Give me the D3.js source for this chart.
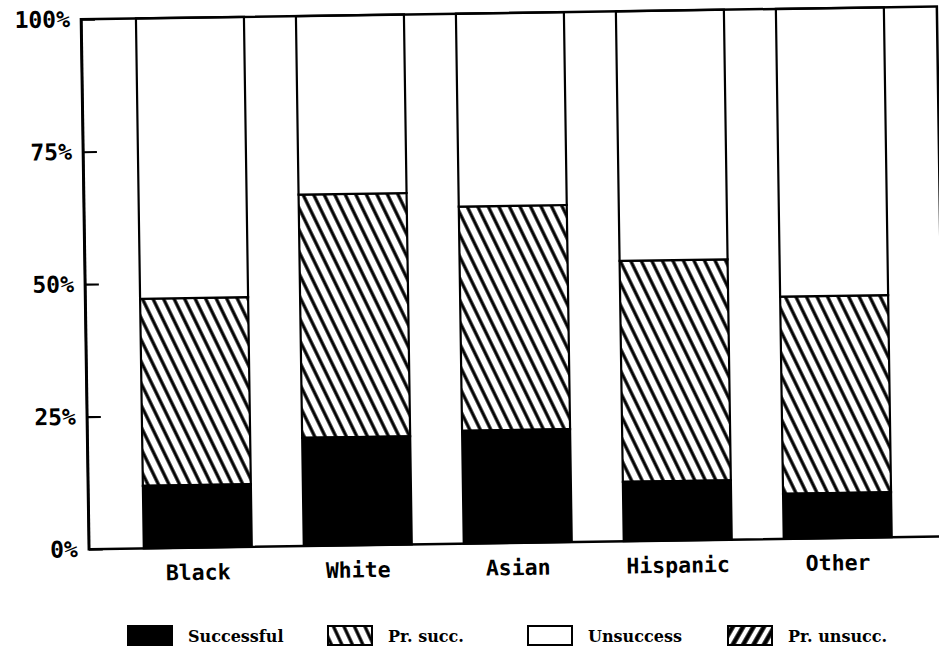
<!DOCTYPE html>
<html>
<head>
<meta charset="utf-8">
<script src="https://cdnjs.cloudflare.com/ajax/libs/d3/7.8.5/d3.min.js"></script>
<style>
  body { margin: 0; background: #fff; }
  svg { display: block; }
</style>
</head>
<body>
<div id="chart-container"></div>
<script>
const categories = ['Black', 'White', 'Asian', 'Hispanic', 'Other'];
const successful = [11.8, 20.4, 21.3, 11.2, 8.5];
const prSucc = [35.3, 45.9, 42.3, 41.7, 37.2];
const unsuccess = [52.9, 33.7, 36.4, 47.1, 54.3];
const prUnsucc = [0, 0, 0, 0, 0];
const seriesKeys = ['successful', 'prSucc', 'unsuccess', 'prUnsucc'];
const seriesNames = ['Successful', 'Pr. succ.', 'Unsuccess', 'Pr. unsucc.'];
const yTicks = [0, 25, 50, 75, 100];

const chartWidth = 939;
const chartHeight = 650;
const plot = { left: 85, right: 941, top: 13.5, bottom: 543.5 };

const drawChart = () => {
  // rows for d3.stack
  const rows = categories.map((c, i) => ({
    category: c,
    successful: successful[i],
    prSucc: prSucc[i],
    unsuccess: unsuccess[i],
    prUnsucc: prUnsucc[i],
  }));
  const stacked = d3.stack().keys(seriesKeys)(rows);

  const svg = d3
    .select('#chart-container')
    .append('svg')
    .attr('width', chartWidth)
    .attr('height', chartHeight);

  // hatch patterns
  const defs = svg.append('defs');
  defs
    .append('pattern')
    .attr('id', 'hatch-back')
    .attr('patternUnits', 'userSpaceOnUse')
    .attr('width', 9.5)
    .attr('height', 20)
    .attr('patternTransform', 'rotate(-25)')
    .append('line')
    .attr('x1', 4.75)
    .attr('x2', 4.75)
    .attr('y1', -2)
    .attr('y2', 22)
    .attr('stroke', '#000')
    .attr('stroke-width', 3.2);
  defs
    .append('pattern')
    .attr('id', 'hatch-fwd')
    .attr('patternUnits', 'userSpaceOnUse')
    .attr('width', 9)
    .attr('height', 20)
    .attr('patternTransform', 'rotate(30)')
    .append('line')
    .attr('x1', 4.5)
    .attr('x2', 4.5)
    .attr('y1', -2)
    .attr('y2', 22)
    .attr('stroke', '#000')
    .attr('stroke-width', 4.5);

  const fills = {
    successful: '#000',
    prSucc: 'url(#hatch-back)',
    unsuccess: '#fff',
    prUnsucc: 'url(#hatch-fwd)',
  };

  // scanned page sits slightly tilted
  const g = svg.append('g').attr('transform', 'rotate(-0.85, 470, 290)');

  const xScale = d3
    .scaleBand()
    .domain(categories)
    .range([114, 914])
    .paddingInner(0.325)
    .paddingOuter(0.1625);
  const yScale = d3
    .scaleLinear()
    .domain([0, 100])
    .range([plot.bottom, plot.top]);

  // Draw bars
  g.selectAll('g.layer')
    .data(stacked)
    .enter()
    .append('g')
    .attr('class', 'layer')
    .attr('fill', (d) => fills[d.key])
    .selectAll('rect')
    .data((d) => d.filter((p) => p[1] - p[0] > 0))
    .enter()
    .append('rect')
    .attr('x', (d) => xScale(d.data.category))
    .attr('y', (d) => yScale(d[1]))
    .attr('width', xScale.bandwidth())
    .attr('height', (d) => yScale(d[0]) - yScale(d[1]))
    .attr('stroke', '#000')
    .attr('stroke-width', 2.2);

  // Frame
  g.append('rect')
    .attr('x', plot.left)
    .attr('y', plot.top)
    .attr('width', plot.right - plot.left)
    .attr('height', plot.bottom - plot.top)
    .attr('fill', 'none')
    .attr('stroke', '#000')
    .attr('stroke-width', 2.5);

  // Axes
  const yAxis = d3
    .axisLeft(yScale)
    .tickValues(yTicks)
    .tickFormat((d) => d + '%')
    .tickSizeInner(-14)
    .tickSizeOuter(0)
    .tickPadding(11);
  const yG = g
    .append('g')
    .attr('id', 'y-axis')
    .attr('transform', `translate(${plot.left},0)`)
    .call(yAxis);
  yG.select('.domain').attr('stroke-width', 2.5);
  yG.selectAll('.tick line').attr('stroke-width', 2.2);
  yG.selectAll('text')
    .attr('font-family', '"DejaVu Sans Mono", monospace')
    .attr('font-weight', 'bold')
    .attr('font-size', 23)
    .attr('fill', '#000');

  const xAxis = d3.axisBottom(xScale).tickSize(0).tickPadding(17);
  const xG = g
    .append('g')
    .attr('id', 'x-axis')
    .attr('transform', `translate(0,${plot.bottom})`)
    .call(xAxis);
  xG.select('.domain').remove();
  xG.selectAll('text')
    .attr('font-family', '"DejaVu Sans Mono", monospace')
    .attr('font-weight', 'bold')
    .attr('font-size', 21.5)
    .attr('fill', '#000');

  // Legend
  const legend = svg
    .append('g')
    .selectAll('g')
    .data(seriesKeys)
    .enter()
    .append('g')
    .attr('transform', (d, i) => `translate(${128 + i * 200},626)`);
  legend
    .append('rect')
    .attr('width', 44)
    .attr('height', 19)
    .attr('fill', (d) => fills[d])
    .attr('stroke', '#000')
    .attr('stroke-width', 2);
  legend
    .append('text')
    .attr('x', 60)
    .attr('y', 16)
    .attr('font-family', '"DejaVu Serif", serif')
    .attr('font-weight', 'bold')
    .attr('font-size', 16)
    .text((d, i) => seriesNames[i]);
};

window.addEventListener('DOMContentLoaded', () => {
  drawChart();
});
</script>
</body>
</html>
